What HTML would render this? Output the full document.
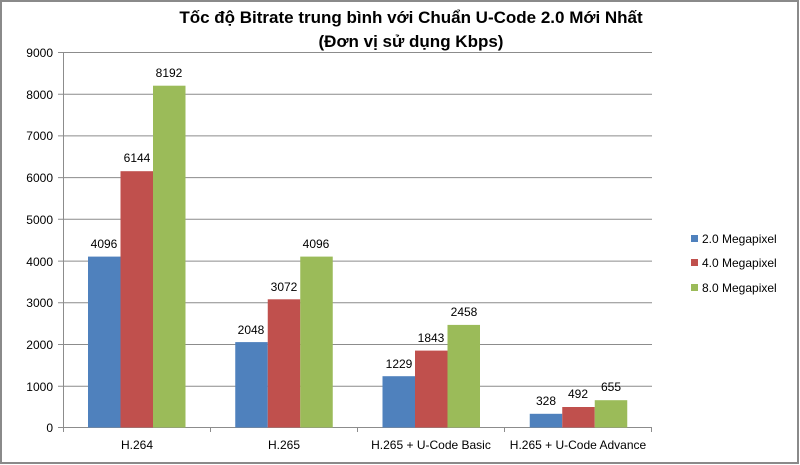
<!DOCTYPE html><html><head><style>body{margin:0;background:#fff}svg{display:block;font-family:"Liberation Sans",sans-serif}</style></head><body>
<svg width="800" height="465" viewBox="0 0 800 465">
<rect x="1" y="1" width="797" height="462" fill="#fff" stroke="#8a8a8a" stroke-width="2"/>
<text x="411" y="23" text-anchor="middle" font-size="17" font-weight="bold" fill="#000">Tốc độ Bitrate trung bình với Chuẩn U-Code 2.0 Mới Nhất</text>
<text x="411" y="47" text-anchor="middle" font-size="17" font-weight="bold" fill="#000">(Đơn vị sử dụng Kbps)</text>
<g stroke="#8c8c8c" stroke-width="1">
<line x1="58" y1="52.5" x2="652" y2="52.5"/><line x1="58" y1="94.2" x2="652" y2="94.2"/><line x1="58" y1="135.9" x2="652" y2="135.9"/><line x1="58" y1="177.6" x2="652" y2="177.6"/><line x1="58" y1="219.3" x2="652" y2="219.3"/><line x1="58" y1="261.1" x2="652" y2="261.1"/><line x1="58" y1="302.8" x2="652" y2="302.8"/><line x1="58" y1="344.5" x2="652" y2="344.5"/><line x1="58" y1="386.2" x2="652" y2="386.2"/><line x1="58" y1="427.5" x2="652" y2="427.5"/>
<line x1="63.5" y1="52" x2="63.5" y2="432"/>
<line x1="210.5" y1="427" x2="210.5" y2="432"/><line x1="357.5" y1="427" x2="357.5" y2="432"/><line x1="504.5" y1="427" x2="504.5" y2="432"/><line x1="651.5" y1="427" x2="651.5" y2="432"/>
</g>
<g font-size="12" fill="#000" text-anchor="end">
<text x="53" y="57">9000</text><text x="53" y="99">8000</text><text x="53" y="140">7000</text><text x="53" y="182">6000</text><text x="53" y="224">5000</text><text x="53" y="266">4000</text><text x="53" y="307">3000</text><text x="53" y="349">2000</text><text x="53" y="391">1000</text><text x="53" y="432">0</text>
</g>
<g>
<rect x="88" y="256.6" width="32.5" height="170.9" fill="#4f81bd"/><rect x="120.5" y="171.2" width="32.5" height="256.3" fill="#c0504d"/><rect x="153" y="85.7" width="32.5" height="341.8" fill="#9bbb59"/>
<rect x="235.25" y="342.1" width="32.5" height="85.4" fill="#4f81bd"/><rect x="267.75" y="299.3" width="32.5" height="128.2" fill="#c0504d"/><rect x="300.25" y="256.6" width="32.5" height="170.9" fill="#9bbb59"/>
<rect x="382.5" y="376.2" width="32.5" height="51.3" fill="#4f81bd"/><rect x="415" y="350.6" width="32.5" height="76.9" fill="#c0504d"/><rect x="447.5" y="324.9" width="32.5" height="102.6" fill="#9bbb59"/>
<rect x="529.75" y="413.8" width="32.5" height="13.7" fill="#4f81bd"/><rect x="562.25" y="407" width="32.5" height="20.5" fill="#c0504d"/><rect x="594.75" y="400.2" width="32.5" height="27.3" fill="#9bbb59"/>
</g>
<g font-size="12" fill="#000" text-anchor="middle">
<text x="104" y="248">4096</text><text x="137" y="162">6144</text><text x="169" y="77">8192</text>
<text x="251" y="334">2048</text><text x="284" y="291">3072</text><text x="316" y="248">4096</text>
<text x="399" y="368">1229</text><text x="431" y="342">1843</text><text x="464" y="316">2458</text>
<text x="546" y="405">328</text><text x="578" y="398">492</text><text x="611" y="391">655</text>
<text x="137" y="449">H.264</text><text x="284" y="449">H.265</text><text x="431" y="449">H.265 + U-Code Basic</text><text x="578" y="449">H.265 + U-Code Advance</text>
</g>
<rect x="691" y="235" width="7" height="7" fill="#4f81bd"/><rect x="691" y="259" width="7" height="7" fill="#c0504d"/><rect x="691" y="284" width="7" height="7" fill="#9bbb59"/>
<g font-size="12" fill="#000"><text x="702" y="243">2.0 Megapixel</text><text x="702" y="267">4.0 Megapixel</text><text x="702" y="292">8.0 Megapixel</text></g>
</svg></body></html>
